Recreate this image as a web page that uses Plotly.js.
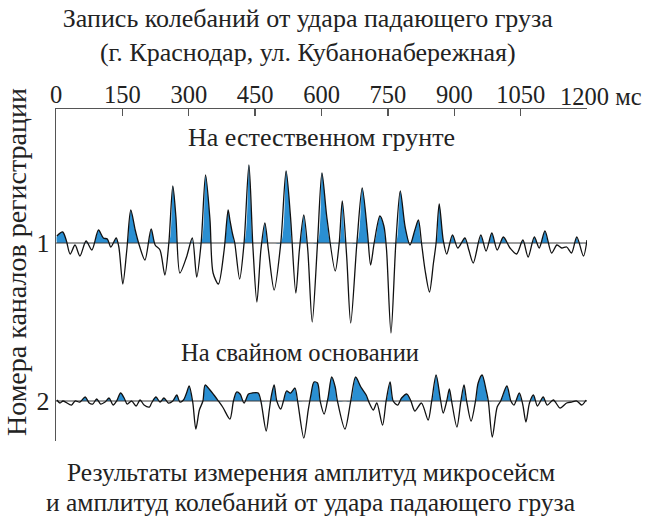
<!DOCTYPE html>
<html>
<head>
<meta charset="utf-8">
<script src="https://cdn.plot.ly/plotly-3.0.1.min.js"></script>
<style>html,body{margin:0;padding:0;background:#fff;}#chart{width:648px;height:520px;}</style>
</head>
<body>
<div id="chart"></div>
<script>
// ---- Data (time in ms, amplitude in relative units) ----
const ch1Time = [2,15,23,32,43,54,68,81,96,107,116,124,136,142,151,160,169,179,188,201,215,224,235,246,255,264,271,280,295,308,318,328,338,348,355,367,380,389,393,399,404,415,425,436,445,454,463,472,480,493,508,520,530,542,550,560,569,579,591,601,612,631,640,647,657,666,680,692,704,711,719,732,741,747,757,768,778,789,800,811,819,826,834,844,853,859,866,875,883,896,908,924,933,943,960,972,985,997,1011,1026,1041,1055,1067,1081,1092,1105,1120,1132,1143,1154,1165,1177,1192,1200];
const ch1Amp  = [7,11,3,-11,-2,-13,2,-7,13,5,4,-4,5,-4,-41,-7,33,13,-2,-17,14,-2,-7,-32,0,57,26,-30,-14,5,-34,0,68,23,-30,-41,-7,33,23,9,0,-36,0,78,-4,-59,-7,20,-7,-47,0,72,26,-50,-7,28,-7,-79,0,70,26,-28,0,42,-14,-80,0,55,10,-22,0,27,17,-7,-90,0,52,16,-2,13,23,0,-27,-49,-20,0,39,3,-11,8,-5,5,-7,-20,8,-8,10,-7,6,-5,-11,3,-14,6,-5,12,-10,-2,-5,-4,-10,6,-13,3];

const ch2Time = [2,9,16,35,43,54,66,75,83,92,101,111,120,129,137,146,154,161,171,181,190,199,211,216,226,235,244,254,264,273,280,288,295,301,309,316,324,332,337,348,357,367,378,393,401,408,416,425,435,443,457,463,475,482,487,493,499,508,514,521,530,540,546,560,570,576,583,591,597,606,615,623,631,636,653,666,677,689,701,708,717,725,738,746,755,762,772,781,793,802,811,826,841,849,859,868,875,883,889,894,906,915,922,928,938,948,954,963,972,977,986,997,1005,1019,1028,1035,1047,1055,1062,1070,1079,1088,1101,1110,1124,1139,1154,1165,1177,1188,1198];
const ch2Amp  = [1,-2,0,-4,0,-1,4,-2,-3,2,-3,-1,3,-4,0,8,3,-3,0,-5,1,-4,-6,-2,4,-1,3,-2,0,6,-1,1,8,15,-1,-28,-9,0,16,11,6,0,-7,-18,0,9,7,-2,7,8,8,0,-30,-9,6,16,0,-8,0,10,8,13,0,-37,-9,6,19,18,0,-13,4,24,14,0,-28,0,24,14,6,-2,-9,-2,-24,0,19,0,-4,3,7,0,-10,-2,-19,0,26,4,-12,0,12,0,-26,0,16,0,-20,0,18,26,11,0,-36,-6,0,15,0,-4,8,-4,-21,-2,6,-5,4,-4,1,-7,-2,-1,0,-4,1];

const channels = [1, 2];
const channelNames = ['На естественном грунте', 'На свайном основании'];
const xTicks = [0,150,300,450,600,750,900,1050,1200];
const xTickText = ['0','150','300','450','600','750','900','1050',''];
const lastTickLabel = '1200 мс';
const gain = 1/158; // channel spacing per relative amplitude unit

// ---- helpers ----
function positivePolygon(t, a, ch) {
  const xs = [t[0]], ys = [ch];
  for (let i = 0; i < t.length; i++) {
    if (i > 0 && ((a[i-1] > 0 && a[i] < 0) || (a[i-1] < 0 && a[i] > 0))) {
      const tc = t[i-1] + (t[i]-t[i-1]) * (a[i-1] / (a[i-1]-a[i]));
      xs.push(tc); ys.push(ch);
    }
    xs.push(t[i]); ys.push(ch - Math.max(a[i], 0) * gain);
  }
  xs.push(t[t.length-1]); ys.push(ch);
  return {xs, ys};
}

const series = [[ch1Time, ch1Amp], [ch2Time, ch2Amp]];
const traces = [];
series.forEach(([t, a], k) => {
  const ch = channels[k];
  const p = positivePolygon(t, a, ch);
  traces.push({x: p.xs, y: p.ys, type: 'scatter', mode: 'lines', fill: 'toself',
    fillcolor: '#2a8fd2', line: {width: 0, shape: 'spline', smoothing: 0.8}, hoverinfo: 'skip', showlegend: false});
  traces.push({x: [0, 1200], y: [ch, ch], type: 'scatter', mode: 'lines',
    line: {color: '#3a3a3a', width: 1.2}, hoverinfo: 'skip', showlegend: false});
  traces.push({x: t, y: a.map(v => ch - v * gain), type: 'scatter', mode: 'lines',
    line: {color: '#111', width: 1.3, shape: 'spline', smoothing: 0.8}, showlegend: false});
});

const FONT = 'Liberation Serif, Times New Roman, serif';
const C = '#222';
const layout = {
  width: 648, height: 520,
  margin: {l: 56, r: 61, t: 109, b: 79},
  paper_bgcolor: '#fff', plot_bgcolor: '#fff',
  font: {family: FONT, color: C, size: 22},
  title: {text: 'Запись колебаний от удара падающего груза<br>(г. Краснодар, ул. Кубанонабережная)',
    x: 0.475, xanchor: 'center', y: 0.948, yanchor: 'middle', yref: 'container',
    font: {family: FONT, size: 26, color: C}},
  xaxis: {side: 'top', range: [0, 1200], tickvals: xTicks, ticktext: xTickText,
    showline: true, linecolor: '#555', linewidth: 1.3, ticks: 'inside', ticklen: 7,
    tickcolor: '#555', tickwidth: 1.3, showgrid: false, zeroline: false, ticklabelstandoff: -5,
    tickfont: {family: FONT, size: 24.5, color: C}, fixedrange: true},
  yaxis: {range: [2.253, 0.152], tickvals: channels, ticktext: channels.map(String),
    showline: true, linecolor: '#555', linewidth: 1.3, ticks: '', showgrid: false,
    zeroline: false, tickfont: {family: FONT, size: 26, color: C}, fixedrange: true},
  annotations: [
    {text: lastTickLabel, xref: 'x', yref: 'paper', x: 1200, y: 1, xanchor: 'left', yanchor: 'middle',
      xshift: -29, yshift: 13, showarrow: false, font: {family: FONT, size: 24.5, color: C}},
    {text: channelNames[0], xref: 'x', yref: 'paper', x: 600, y: 1, yanchor: 'middle',
      yshift: -28, showarrow: false, font: {family: FONT, size: 26, color: C}},
    {text: channelNames[1], xref: 'x', yref: 'y', x: 551, y: 2, yanchor: 'middle',
      yshift: 49, showarrow: false, font: {family: FONT, size: 24.5, color: C}},
    {text: 'Номера каналов регистрации', xref: 'paper', yref: 'paper', x: 0, y: 0.539,
      xshift: -40, textangle: -90, showarrow: false, xanchor: 'center', yanchor: 'middle',
      font: {family: FONT, size: 28, color: C}},
    {text: 'Результаты измерения амплитуд микросейсм',
      xref: 'paper', yref: 'paper', x: 0.48, y: 0, yshift: -31, xanchor: 'center', yanchor: 'middle',
      showarrow: false, font: {family: FONT, size: 25.5, color: C}},
    {text: 'и амплитуд колебаний от удара падающего груза',
      xref: 'paper', yref: 'paper', x: 0.48, y: 0, yshift: -61, xanchor: 'center', yanchor: 'middle',
      showarrow: false, font: {family: FONT, size: 25.5, color: C}}
  ]
};
Plotly.newPlot('chart', traces, layout, {displayModeBar: false, staticPlot: true});
</script>
</body>
</html>
